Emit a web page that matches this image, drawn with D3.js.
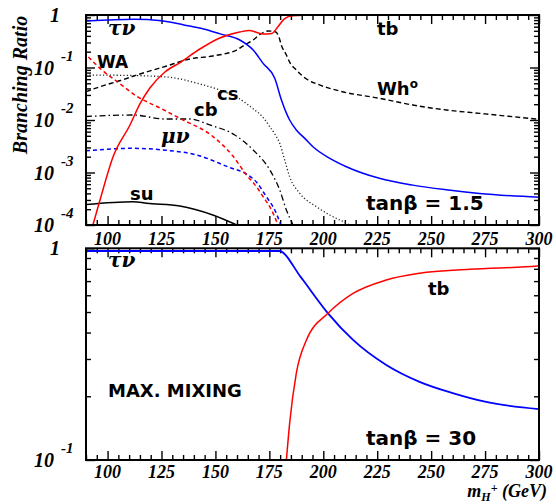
<!DOCTYPE html>
<html><head><meta charset="utf-8">
<script src="https://cdn.jsdelivr.net/npm/d3@7"></script>
<style>
html,body{margin:0;padding:0;background:#fff;}
svg{display:block;}
</style></head>
<body>
<svg id="chart" width="556" height="504"></svg>
<script>
// ---------- DATA (tan beta = 1.5) ----------
const mTau15 = [90,100,112,125,135.4,145,152.2,161.3,167.5,172.1,177.5,180.6,182.9,184.4,187.5,191.4,195.2,203,210.7,226,241.5,257,272.4,300];
const brTau15 = [0.769,0.80,0.828,0.776,0.646,0.537,0.437,0.334,0.215,0.120,0.0622,0.0240,0.0135,0.0100,0.00646,0.00447,0.00309,0.00186,0.00129,0.000776,0.000575,0.000468,0.000398,0.000339];

const mTb15 = [93.2,96.5,102.5,110.4,115.0,119.6,126.6,134.0,142.8,152.0,161.3,165.9,171.9,176.1,178.9,182.1,185.8,195.1,300];
const brTb15 = [0.0001,0.000299,0.00197,0.00804,0.0202,0.0407,0.082,0.127,0.225,0.365,0.474,0.507,0.435,0.445,0.590,0.857,0.97,1.0,1.0];

const mWh15 = [90,96.5,106.0,115.0,127.4,138.1,148.8,159.8,163.6,167.5,170.6,174.4,177.5,179.1,180.7,182.9,184.4,187.5,192.2,198.3,207.6,226.1,241.5,257.0,272.4,300];
const brWh15 = [0.0346,0.0431,0.0565,0.0752,0.107,0.145,0.166,0.215,0.269,0.334,0.426,0.495,0.485,0.416,0.257,0.173,0.127,0.0895,0.0604,0.0465,0.0356,0.0259,0.0193,0.0155,0.0134,0.0103];

const mCs15 = [90,110.4,127.5,142.8,152.0,161.3,168.2,171.5,175.2,177.5,179.8,182.1,184.4,189.1,196.8,203.0,210.7,212.2];
const brCs15 = [0.0719,0.0705,0.0659,0.0485,0.0372,0.0251,0.0155,0.0119,0.00746,0.00541,0.00360,0.00173,0.000832,0.000402,0.000223,0.000155,0.000108,0.0001];

const mCb15 = [90,111.8,126.6,138.1,147.4,159.0,167.5,175.2,179.8,182.9,186.0];
const brCb15 = [0.01167,0.01245,0.01045,0.01045,0.00804,0.00518,0.00269,0.00112,0.000465,0.000193,0.0001];

const mWA15 = [91.1,98.3,104.5,113.8,124.6,133.5,148.9,158.1,164.4,169.0,172.1,176.0,179.0];
const brWA15 = [0.158,0.0832,0.0537,0.0278,0.0167,0.01076,0.00481,0.00206,0.000895,0.000537,0.000346,0.000193,0.0001];

const mMu15 = [90,111.8,125.6,141.4,156.7,164.4,169.0,173.7,177.5,179.8,180.3];
const brMu15 = [0.0026,0.00289,0.00269,0.00215,0.00124,0.000935,0.000659,0.000341,0.000193,0.000114,0.0001];

const mSu15 = [90,111.8,118.2,133.5,148.8,159.9];
const brSu15 = [0.000245,0.000278,0.000259,0.00023,0.000155,0.0001];

// ---------- DATA (tan beta = 30) ----------
const mTau30 = [90,179.4,189.4,190.6,202.2,213.8,229.2,244.6,260,275.5,300];
const brTau30 = [0.971,0.971,0.735,0.708,0.493,0.369,0.281,0.234,0.207,0.188,0.174];

const mTb30 = [182.9,184.4,187.5,192.2,202.2,213.8,229.2,244.6,267.8,299.4,300];
const brTb30 = [0.1,0.149,0.257,0.369,0.493,0.612,0.708,0.762,0.796,0.824,0.825];

// ---------- TICKS ----------
const xMajorTicks = [100,125,150,175,200,225,250,275,300];
const xTickLabels = ["100","125","150","175","200","225","250","275","300"];
const yTopTicks = [1,0.1,0.01,0.001,0.0001];
const yTopExp = [null,"-1","-2","-3","-4"];
const yBotTicks = [1,0.1];
const yBotExp = [null,"-1"];

// ---------- LAYOUT ----------
const svg = d3.select("#chart");
const X0 = 86, X1 = 539;
const x = d3.scaleLinear().domain([90,300]).range([X0,X1]);
const yTop = d3.scaleLog().domain([1e-4,1]).range([225,15]);
const yBot = d3.scaleLog().domain([0.1,1]).range([460,248.3]);

const serif = "'Liberation Serif','Times New Roman',serif";
const sans = "'DejaVu Sans',sans-serif";

function minorLog(domain){
  const out=[];
  const lo=Math.round(Math.log10(domain[0])), hi=Math.round(Math.log10(domain[1]));
  for(let d=lo; d<hi; d++){
    for(let k=2;k<=9;k++) out.push(k*Math.pow(10,d));
  }
  return out;
}
const xMinor = d3.range(90,301,5).filter(v=>v%25!==0);

function panel(y, id, series, yTicks, yExp, labelDy){
  const g = svg.append("g");
  const [yb, yt] = y.range();
  svg.append("clipPath").attr("id",id).append("rect")
     .attr("x",X0).attr("y",yt).attr("width",X1-X0).attr("height",yb-yt);

  const major = 9, minor = 5;
  const ax = (gen, vals, size, tr) => {
    const a = g.append("g").attr("transform",tr)
      .call(gen.tickValues(vals).tickSize(size).tickFormat(""));
    a.select(".domain").remove();
    a.selectAll("line").attr("stroke","#000").attr("stroke-width",1.4);
  };
  ax(d3.axisBottom(x), xMajorTicks, -major, `translate(0,${yb})`);
  ax(d3.axisBottom(x), xMinor, -minor, `translate(0,${yb})`);
  ax(d3.axisTop(x), xMajorTicks, -major, `translate(0,${yt})`);
  ax(d3.axisTop(x), xMinor, -minor, `translate(0,${yt})`);
  ax(d3.axisLeft(y), yTicks, -major, `translate(${X0},0)`);
  ax(d3.axisLeft(y), minorLog(y.domain()), -minor, `translate(${X0},0)`);
  ax(d3.axisRight(y), yTicks, -major, `translate(${X1},0)`);
  ax(d3.axisRight(y), minorLog(y.domain()), -minor, `translate(${X1},0)`);

  const cg = g.append("g").attr("clip-path",`url(#${id})`);
  series.forEach(s=>{
    const pts = s.m.map((m,i)=>[m,s.br[i]]);
    cg.append("path").datum(pts)
      .attr("fill","none").attr("stroke",s.color).attr("stroke-width",s.w||1.5)
      .attr("stroke-dasharray",s.dash||null)
      .attr("d", d3.line().x(d=>x(d[0])).y(d=>y(d[1])).curve(d3.curveMonotoneX));
  });

  g.append("rect").attr("x",X0).attr("y",yt).attr("width",X1-X0).attr("height",yb-yt)
    .attr("fill","none").attr("stroke","#000").attr("stroke-width",2);

  yTicks.forEach((v,i)=>{
    const yy = y(v);
    if(yExp[i]===null){
      g.append("text").attr("x",60).attr("y",yy+7).attr("text-anchor","end")
        .attr("font-family",serif).attr("font-weight","bold").attr("font-style","italic")
        .attr("font-size",20).text("1");
    } else {
      g.append("text").attr("x",54).attr("y",yy+7).attr("text-anchor","end")
        .attr("font-family",serif).attr("font-weight","bold").attr("font-style","italic")
        .attr("font-size",20).text("10");
      g.append("text").attr("x",61).attr("y",yy-7)
        .attr("font-family",serif).attr("font-weight","bold").attr("font-style","italic")
        .attr("font-size",15).text(yExp[i]);
    }
  });
  xMajorTicks.forEach((v,i)=>{
    g.append("text").attr("x",x(v)).attr("y",yb+labelDy).attr("text-anchor","middle")
      .attr("font-family",serif).attr("font-weight","bold").attr("font-style","italic")
      .attr("font-size",18).text(xTickLabels[i]);
  });
  return g;
}

const blue="#0000ff", red="#ff0000", black="#000";
panel(yTop,"clipTop",[
  {m:mSu15, br:brSu15, color:black},
  {m:mCb15, br:brCb15, color:black, dash:"6,3,1.5,3", w:1.3},
  {m:mCs15, br:brCs15, color:"#222", dash:"1.2,2.2", w:1.3},
  {m:mWh15, br:brWh15, color:black, dash:"5,3", w:1.4},
  {m:mMu15, br:brMu15, color:blue, dash:"4,3"},
  {m:mWA15, br:brWA15, color:red, dash:"4,3"},
  {m:mTau15, br:brTau15, color:blue},
  {m:mTb15, br:brTb15, color:red}
], yTopTicks, yTopExp, 20);

panel(yBot,"clipBot",[
  {m:mTau30, br:brTau30, color:blue, w:1.8},
  {m:mTb30, br:brTb30, color:red}
], yBotTicks, yBotExp, 18);

// ---------- labels ----------
function lab(t,xx,yy,size,opts={}){
  const el = svg.append("text").attr("x",xx).attr("y",yy)
    .attr("font-family",opts.family||sans).attr("font-weight",opts.weight||"bold")
    .attr("font-style",opts.style||"normal").attr("font-size",size).attr("fill","#000");
  return el.text(t);
}
const greek = "'DejaVu Serif',serif";
lab("τν",108,35,20,{family:greek,style:"italic",weight:"bold"});
lab("tb",377,35,18);
lab("WA",97,68,17);
const wh = lab("Wh",377,95,18);
wh.append("tspan").attr("dy",-7).attr("font-size",12).text("o");
lab("cs",217,100,18);
lab("cb",194,116,18);
lab("μν",161,143,20,{family:greek,style:"italic",weight:"bold"});
lab("su",130,200,18);
lab("tanβ = 1.5",366,210,20);

lab("τν",108,267,20,{family:greek,style:"italic",weight:"bold"});
lab("tb",428,295,18);
lab("MAX. MIXING",108,397,18);
lab("tanβ = 30",366,445,20);

svg.append("text").attr("transform","translate(27,85) rotate(-90)")
  .attr("text-anchor","middle").attr("font-family",serif).attr("font-weight","bold")
  .attr("font-style","italic").attr("font-size",20).text("Branching Ratio");

const xt = svg.append("text").attr("x",547).attr("y",497).attr("text-anchor","end")
  .attr("font-family",serif).attr("font-weight","bold").attr("font-style","italic").attr("font-size",18);
xt.append("tspan").text("m");
xt.append("tspan").attr("dy",4).attr("font-size",12).text("H");
xt.append("tspan").attr("dy",-9).attr("font-size",12).text("+");
xt.append("tspan").attr("dy",5).text(" (GeV)");
</script>
</body></html>
